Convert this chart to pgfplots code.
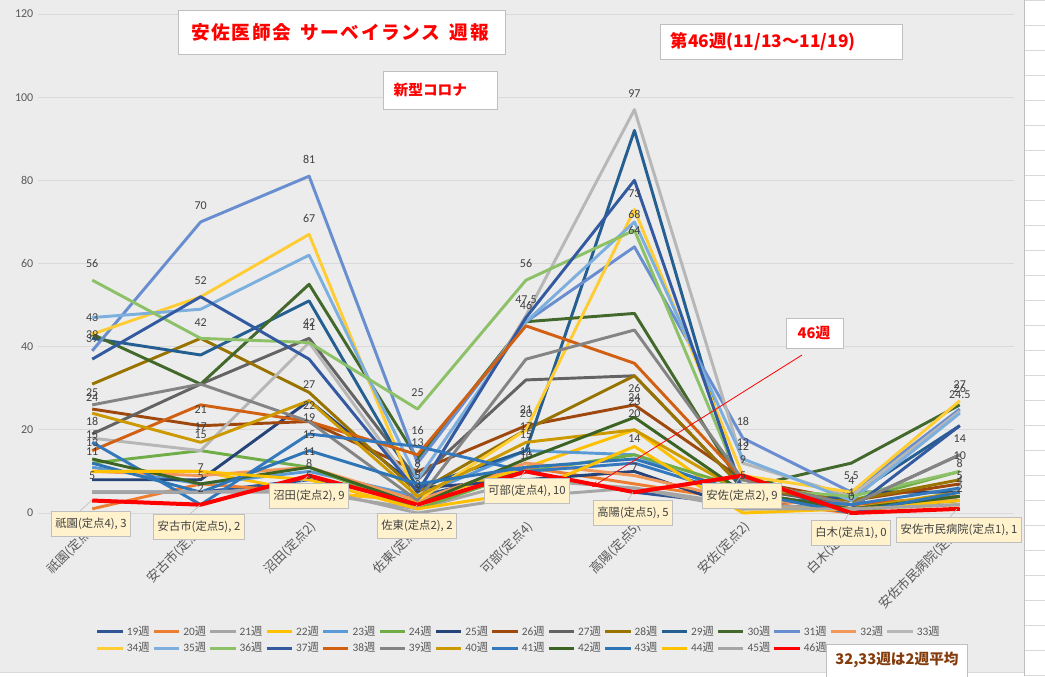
\documentclass[border=0pt]{standalone}
\usepackage{pgfplots}
\pgfplotsset{compat=1.18}
\usepackage{pgfplotstable}
\usepackage{fontspec}
\setmainfont{Carlito}
\newfontfamily\jp{Noto Sans CJK JP}
\usetikzlibrary{arrows.meta}
\newcommand\W{{\jp 週}}
\newcommand\g{\hspace{1.2pt}}
\newcommand\G{\hspace{7pt}}
\definecolor{bgc}{HTML}{ECECEC}
\definecolor{gridc}{HTML}{D9D9D9}
\definecolor{txtc}{HTML}{595959}
\definecolor{lblc}{HTML}{404040}
\definecolor{boxc}{HTML}{BFBFBF}
\definecolor{callf}{HTML}{FFF2CC}
\definecolor{brownt}{HTML}{843C0C}
\definecolor{c19}{HTML}{2F5597}
\definecolor{c20}{HTML}{ED7D31}
\definecolor{c21}{HTML}{A5A5A5}
\definecolor{c22}{HTML}{FFC000}
\definecolor{c23}{HTML}{5B9BD5}
\definecolor{c24}{HTML}{70AD47}
\definecolor{c25}{HTML}{264478}
\definecolor{c26}{HTML}{9E480E}
\definecolor{c27}{HTML}{636363}
\definecolor{c28}{HTML}{997300}
\definecolor{c29}{HTML}{255E91}
\definecolor{c30}{HTML}{43682B}
\definecolor{c31}{HTML}{698ED0}
\definecolor{c32}{HTML}{F1975A}
\definecolor{c33}{HTML}{B7B7B7}
\definecolor{c34}{HTML}{FFCD33}
\definecolor{c35}{HTML}{7CAFDD}
\definecolor{c36}{HTML}{8CC168}
\definecolor{c37}{HTML}{335AA1}
\definecolor{c38}{HTML}{D26012}
\definecolor{c39}{HTML}{848484}
\definecolor{c40}{HTML}{CC9A00}
\definecolor{c41}{HTML}{3478BE}
\definecolor{c42}{HTML}{3B6323}
\definecolor{c43}{HTML}{2E75B6}
\definecolor{c44}{HTML}{FFC000}
\definecolor{c45}{HTML}{A5A5A5}
\definecolor{c46}{HTML}{FF0000}

\pgfplotstableread{
x w19 w20 w21 w22 w23 w24 w25 w26 w27 w28 w29 w30 w31 w32 w33 w34 w35 w36 w37 w38 w39 w40 w41 w42 w43 w44 w45 w46
0 5 1 5 10 11 12 8 25 19 31 42 43 39 10 18 43 47 56 37 15 26 24 17 13 12 10 5 3
1 5 7 5 10 7 15 8 21 31 42 38 31 70 9 15 52 49 42 52 26 31 17 2 7 5 10 5 2
2 8 5 5 5 10 11 27 22 42 29 51 55 81 11 41 67 62 41 37 22 22 27 19 11 15 8 6 9
3 4 3 1 3 4 1 6 10 8 5 6 13 12 3 5 3 8 25 5 14 3 4 16 2 7 1 0 2
4 10 11 8 11 15 10 8 21 32 20 15 46 46 12 47.5 20 46 56 47 45 37 17 10 13 11 5 4 10
5 5 7 6 20 14 14 10 26 33 33 92 48 64 9 97 73 70 68 80 36 44 20 12 23 13 16 6 5
6 2 3 2 1 4 6 1 8 6 6 2 6 18 3 12 9 13 6 5 8 8 5 4 5 5 0 1 9
7 1 0 1 1 1 3 5 3 2 3 4 12 5 2 4 5 3 4 1 2 2 1 2 1 0 1 1 0
8 3 4 2 3 4 10 5 7 14 8 21 26 25 4 24.5 27 24 10 21 4 14 5 6 4 5 2 2 1
}\covid

\pgfplotstableread{
x y t
0 56 56
0 43 43
0 39 39
0 38 39
0 25 25
0 24 24
0 18 18
0 15 15
0 13 13
0 11 11
0 5 5
1 70 70
1 52 52
1 42 42
1 21 21
1 17 17
1 15 15
1 7 7
1 5 5
1 2 2
2 81 81
2 67 67
2 42 42
2 41 41
2 27 27
2 22 22
2 19 19
2 15 15
2 11 11
2 8 8
2 5 5
3 25 25
3 16 16
3 13 13
3 8 8
3 6 6
3 5 5
3 3 3
3 2 2
4 56 56
4 47.5 47.5
4 46 46
4 21 21
4 20 20
4 17 17
4 15 15
4 11 11
4 10 10
5 97 97
5 73 73
5 68 68
5 64 64
5 26 26
5 24 24
5 23 23
5 20 20
5 14 14
5 7 7
6 18 18
6 13 13
6 12 12
6 9 9
6 5 5
6 2 2
6.96 5 5
7.04 5 5
7 4 4
7 1 1
7 0 0
8 27 27
8 26 26
8 24.5 24.5
8 14 14
8 10 10
8 8 8
8 5 5
8 4 4
8 2 2
}\labs

\begin{document}
\begin{tikzpicture}[x=0.75pt,y=0.75pt]
\useasboundingbox (0,0) rectangle (1045,676);
\fill[bgc] (0,0) rectangle (1045,676);
\begin{axis}[
  at={(28.5pt,122.25pt)}, anchor=south west,
  width=732pt, height=374.25pt, scale only axis,
  xmin=-0.5, xmax=8.5, ymin=0, ymax=120,
  ytick={0,20,...,120}, xtick={0,...,8},
  xticklabels={祇園(定点4),安古市(定点5),沼田(定点2),佐東(定点2),可部(定点4),高陽(定点5),安佐(定点2),白木(定点1),安佐市民病院(定点1)},
  axis line style={draw=none}, major tick length=0pt,
  ymajorgrids, grid style={line width=0.6pt, color=gridc},
  /pgf/number format/assume math mode=true,
  yticklabel style={font=\fontsize{9}{10}\selectfont, text=txtc},
  xticklabel style={font=\jp\fontsize{9.5}{11}\selectfont, text=txtc, rotate=45, anchor=north east},
  clip=false,
  every axis plot/.append style={line width=2.2pt, line join=round, mark=none},
  legend columns=15,
  legend style={at={(0.055,-0.215)}, anchor=north west, draw=none, fill=none,
    font=\fontsize{8.5}{10}\selectfont, text=txtc,
    /tikz/every even column/.append style={column sep=0pt},
    /tikz/every row/.append style={row sep=3pt}},
  legend cell align=left,
  legend image code/.code={\draw[#1,line width=2.2pt] (0pt,0pt) -- (19pt,0pt);},
]
\pgfplotsinvokeforeach{19,...,45}{
  \addplot[color=c#1] table[x=x,y=w#1]{\covid};
  \addlegendentry{#1\W}
}
\addplot[color=c46, line width=3pt] table[x=x,y=w46]{\covid};
\addlegendentry{46\W}
\addplot[draw=none, mark=none, forget plot, nodes near coords, point meta=explicit symbolic,
  nodes near coords style={font=\fontsize{9}{10}\selectfont, text=lblc, anchor=south, inner sep=1pt, yshift=7pt}]
  table[x=x,y=y,meta=t]{\labs};
\end{axis}
% right and bottom spreadsheet strips
\fill[white] (1024,0) rectangle (1045,676);
\foreach \k in {0,...,27} \draw[gridc, line width=0.5pt] (1024,676-25*\k) -- (1045,676-25*\k);
\draw[boxc, line width=0.5pt] (1024,0) -- (1024,676);
\fill[white] (0,0) rectangle (1024,4);
\draw[gridc, line width=0.5pt] (0,4) -- (1024,4);
% title boxes
\draw[boxc, fill=white, line width=0.6pt] (178,666) rectangle (505,622);
\node[text=red, font=\jp\bfseries\fontsize{14}{16}\selectfont] at (340,644) {安\g 佐\g 医\g 師\g 会\G サ\g ー\g ベ\g イ\g ラ\g ン\g ス\G 週\g 報};
\draw[boxc, fill=white, line width=0.6pt] (383,605) rectangle (497,567);
\node[text=red, font=\jp\bfseries\fontsize{11}{13}\selectfont, anchor=west] at (389,586) {新型コロナ};
\draw[boxc, fill=white, line width=0.6pt] (660,652) rectangle (902,617);
\node[text=red, font=\jp\bfseries\fontsize{13}{15}\selectfont, anchor=west] at (666,634.5) {第46週(11/13～11/19)};
\draw[boxc, fill=white, line width=0.6pt] (786,358) rectangle (843,328);
\node[text=red, font=\jp\bfseries\fontsize{11}{13}\selectfont] at (814,343) {46週};
\draw[red, line width=0.6pt, -{Stealth[length=5pt,width=4pt]}] (802,321) -- (592,189);
\draw[boxc, fill=white, line width=0.6pt] (826,32) rectangle (967,-2);
\node[text=brownt, font=\jp\bfseries\fontsize{11}{13}\selectfont] at (897,16) {32,33週は2週平均};
% callouts
\tikzset{call/.style={draw=boxc, fill=callf, text=lblc, font=\jp\fontsize{8.5}{10}\selectfont, inner xsep=3pt, inner ysep=5pt, line width=0.5pt}}
\draw[boxc, line width=0.5pt] (80,165) -- (92,176);
\node[call] at (91,152) {祇園(定点4), 3};
\draw[boxc, line width=0.5pt] (190,162) -- (200,171);
\node[call] at (199,149) {安古市(定点5), 2};
\draw[boxc, line width=0.5pt] (300,193) -- (308,200);
\node[call] at (309,180) {沼田(定点2), 9};
\draw[boxc, line width=0.5pt] (410,163) -- (417,171);
\node[call] at (417,150) {佐東(定点2), 2};
\draw[boxc, line width=0.5pt] (520,198) -- (525,205);
\node[call] at (527,185) {可部(定点4), 10};
\draw[boxc, line width=0.5pt] (628,176) -- (633,184);
\node[call] at (633,163) {高陽(定点5), 5};
\draw[boxc, line width=0.5pt] (736,193) -- (741,200);
\node[call] at (742,180) {安佐(定点2), 9};
\draw[boxc, line width=0.5pt] (845,156) -- (849,163);
\node[call] at (851,143) {白木(定点1), 0};
\draw[boxc, line width=0.5pt] (950,159) -- (957,167);
\node[call] at (959,146) {安佐市民病院(定点1), 1};
\end{tikzpicture}
\end{document}
